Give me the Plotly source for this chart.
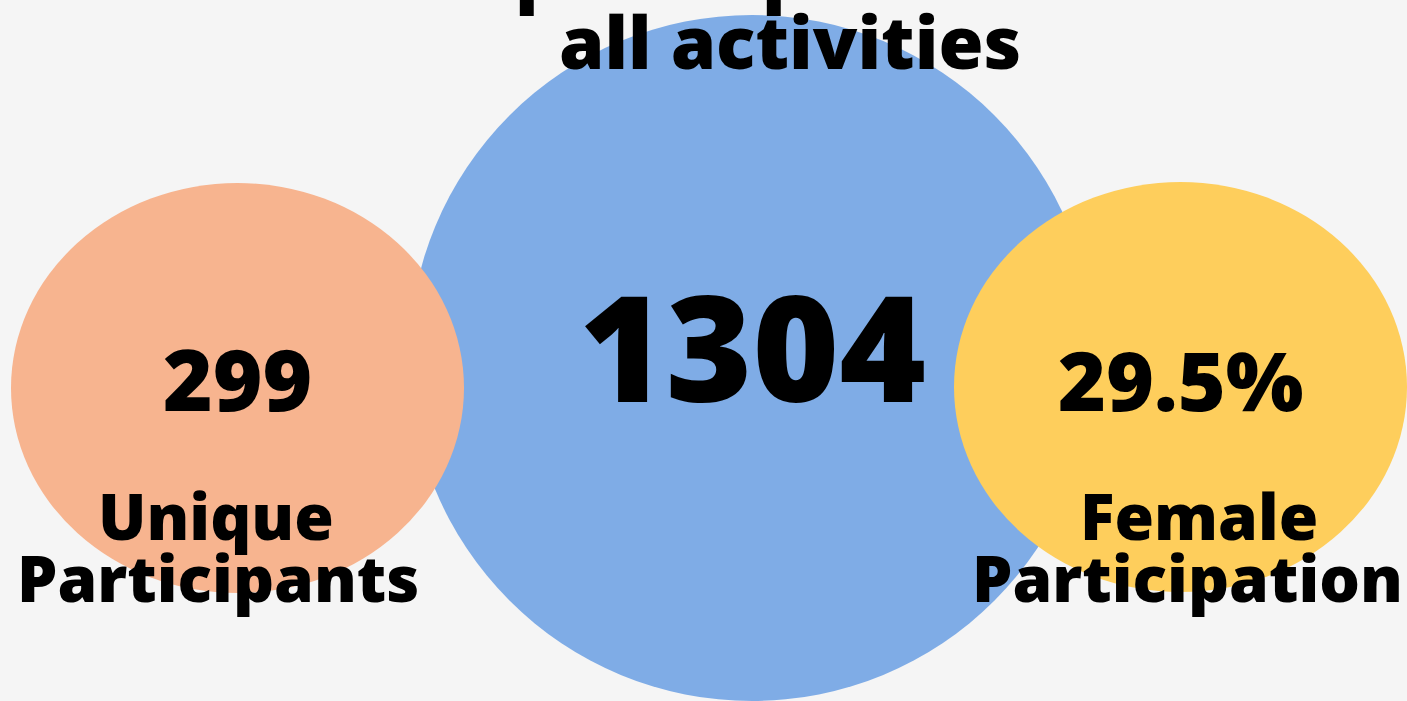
import plotly.graph_objects as go

# ---- data ----
metric_names = ["Unique Participants", "Total participants in all activities", "Female Participation"]
metric_values = [299, 1304, 29.5]
value_labels = ["299", "1304", "29.5%"]
label_lines = [["Unique", "Participants"], [], ["Female", "Participation"]]
title_lines = ["participants in", "all activities"]
colors = ["#F7B48F", "#7FACE6", "#FECE5C"]

# ---- layout constants (pixel-like axis units) ----
W, H = 1407, 701
BG = "#F5F5F5"
FONT = "Open Sans"
centers_x = [237.5, 752, 1180.5]
centers_y = [388, 358, 387]
radii_x = [226.5, 343, 226.5]
radii_y = [205, 343, 205]
value_sizes = [85, 148, 82]
value_y = [378, 344, 379]
label_x = [[216, 217.5], [], [1198.5, 1187.5]]
label_y = [515, 577]
label_size = 64
title_x = [790, 790]
title_y = [-29, 41]
title_size = 73

fig = go.Figure()
fig.add_trace(go.Scatter(x=centers_x, y=centers_y, mode="markers",
                         marker=dict(size=1, opacity=0), hoverinfo="skip",
                         showlegend=False))

draw_order = [1, 0, 2]
for i in draw_order:
    fig.add_shape(type="circle", xref="x", yref="y",
                  x0=centers_x[i] - radii_x[i], x1=centers_x[i] + radii_x[i],
                  y0=centers_y[i] - radii_y[i], y1=centers_y[i] + radii_y[i],
                  fillcolor=colors[i], line=dict(width=0), layer="above")

for i, v in enumerate(value_labels):
    fig.add_annotation(x=centers_x[i], y=value_y[i], xref="x", yref="y",
                       text=v, showarrow=False, xanchor="center", yanchor="middle",
                       font=dict(family=FONT, size=value_sizes[i], color="black", weight=800))
    for j, line in enumerate(label_lines[i]):
        fig.add_annotation(x=label_x[i][j], y=label_y[j], xref="x", yref="y",
                           text=line, showarrow=False, xanchor="center", yanchor="middle",
                           font=dict(family=FONT, size=label_size, color="black", weight=800))

for j, line in enumerate(title_lines):
    fig.add_annotation(x=title_x[j] / W, y=1 - title_y[j] / H, xref="paper", yref="paper",
                       text=line, showarrow=False, xanchor="center", yanchor="middle",
                       font=dict(family=FONT, size=title_size, color="black", weight=800))

fig.update_layout(
    width=W, height=H, autosize=False,
    margin=dict(l=0, r=0, t=0, b=0, pad=0),
    paper_bgcolor=BG, plot_bgcolor=BG,
    xaxis=dict(range=[0, W], visible=False, fixedrange=True),
    yaxis=dict(range=[H, 0], visible=False, fixedrange=True),
    showlegend=False,
)

fig.write_html("out.html", config={"displayModeBar": False},
               post_script="document.body.style.margin='0';document.body.style.overflow='hidden';")
